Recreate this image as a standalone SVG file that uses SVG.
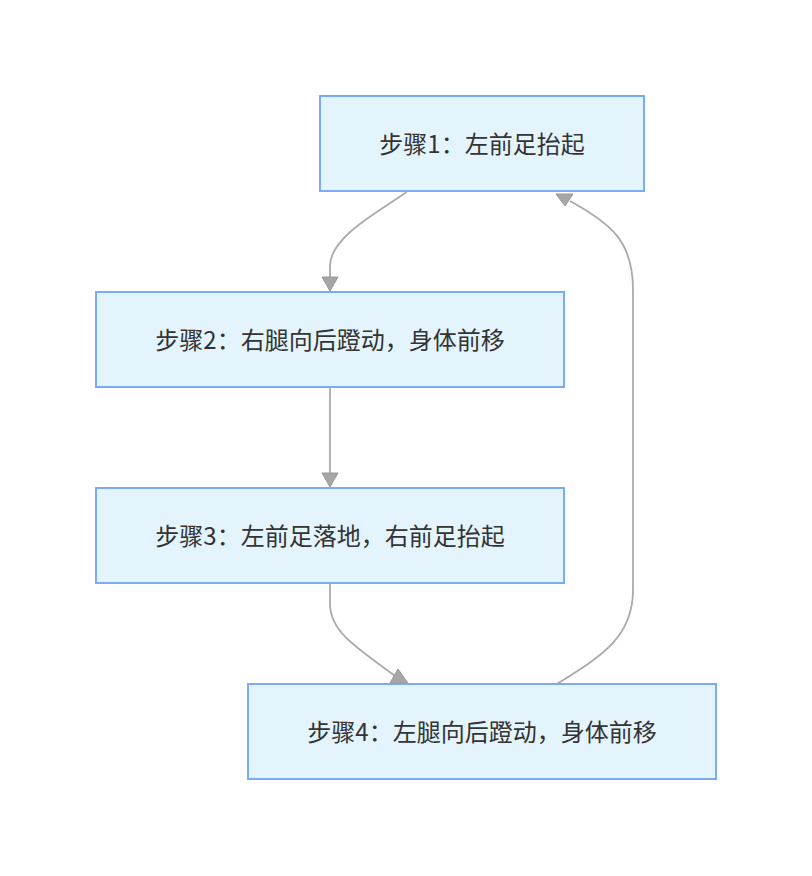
<svg xmlns="http://www.w3.org/2000/svg" width="812" height="876" viewBox="0 0 812 876">
<style>
.node rect{fill:#e4f4fd;stroke:#7aabfb;stroke-width:2}
.node text{font-family:"Noto Sans CJK SC","Noto Sans",sans-serif;font-size:24px;fill:#333;text-anchor:middle;dominant-baseline:central}
.edge path{fill:none;stroke:#aaaaaa;stroke-width:1.8}
.head{fill:#a6a6a6;stroke:#999;stroke-width:1}
</style>
<rect width="812" height="876" fill="#fff"/>
<g id="edges" class="edge">
<path d="M406.5,192 C382,210 330,236 330,266 L330,279"/>
<polygon class="head" points="322,277 338,277 330,291"/>
<path d="M330,388 L330,475"/>
<polygon class="head" points="322,473 338,473 330,487"/>
<path d="M330,584 L330,604 C330,630 352,645 398,678"/>
<polygon class="head" points="390,683 408,683 398,669"/>
<path d="M557,684 C600,657 633,638 633,590 L633,290 C633,242 612,224 570,201"/>
<polygon class="head" points="556,194 573,194 565,206"/>
</g>
<g id="n1" class="node"><rect x="320" y="96" width="324" height="95"/><text x="482" y="142">步骤1：左前足抬起</text></g>
<g id="n2" class="node"><rect x="96" y="292" width="468" height="95"/><text x="330" y="338">步骤2：右腿向后蹬动，身体前移</text></g>
<g id="n3" class="node"><rect x="96" y="488" width="468" height="95"/><text x="330" y="534">步骤3：左前足落地，右前足抬起</text></g>
<g id="n4" class="node"><rect x="248" y="684" width="468" height="95"/><text x="482" y="730">步骤4：左腿向后蹬动，身体前移</text></g>
</svg>
